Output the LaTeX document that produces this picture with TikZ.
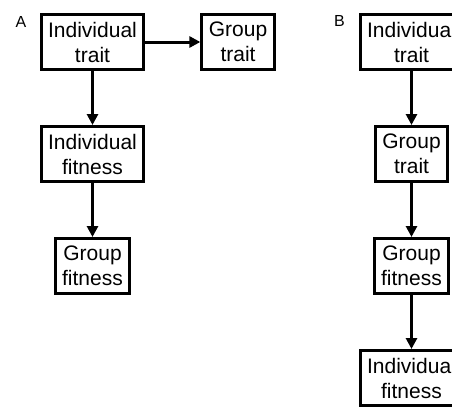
\documentclass[tikz,border=0pt]{standalone}
\usepackage{fontspec}
\setmainfont{Liberation Sans}
\usepackage{tikz}
\usetikzlibrary{arrows.meta,positioning}

\begin{document}
\begin{tikzpicture}[ -, node distance = 54pt and 55pt, x=1pt, y=-1pt,
                    auto, main/.style = {draw, line width=3pt, align=center,
                    inner xsep=7pt, minimum height=55pt,
                    font=\fontsize{21}{25}\selectfont},
                    lbl/.style = {font=\fontsize{16}{18}\selectfont}]
\clip (0,0) rectangle (452,408);
\useasboundingbox (0,0) rectangle (452,408);
    \node[lbl] (A) at (21,22) {A};
\node[main] (a1) at (92.5,42) {Individual\\trait};
\node[main, right= of a1] (a2) {Group\\trait};
\node[main, below= of a1] (a3) {Individual\\fitness};
\node[main, below= of a3] (a4) {Group\\fitness};
    \node[lbl] (B) at (339.5,21) {B};
\node[main] (b1) at (411.5,42) {Individual\\trait};
\node[main, below= of b1] (b2) {Group\\trait};
\node[main, below= of b2] (b3) {Group\\fitness};
\node[main, below= of b3] (b4) {Individual\\fitness};
    \path[line width=3pt, -{Triangle[width=11pt,length=11pt]}]
(a1) edge (a2)
(a1) edge (a3)
(a3) edge (a4)
(b1) edge (b2)
(b2) edge (b3)
(b3) edge (b4);
\end{tikzpicture}
\end{document}
